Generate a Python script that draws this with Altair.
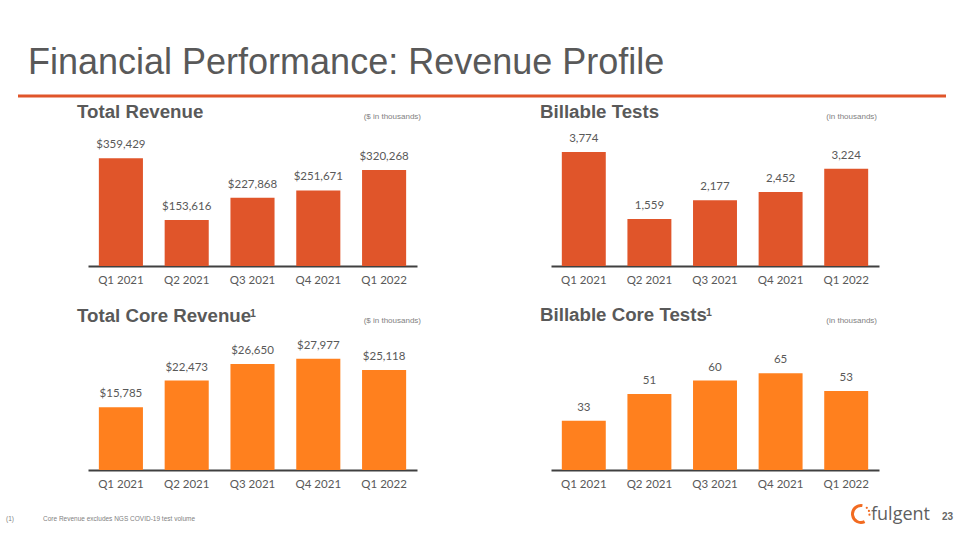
import math
import altair as alt
import pandas as pd

# ---- data ----
quarters = ["Q1 2021", "Q2 2021", "Q3 2021", "Q4 2021", "Q1 2022"]
total_revenue = [359429, 153616, 227868, 251671, 320268]
billable_tests = [3774, 1559, 2177, 2452, 3224]
core_revenue = [15785, 22473, 26650, 27977, 25118]
core_tests = [33, 51, 60, 65, 53]

GRAY = "#595959"
RED_ORANGE = "#E0552A"
ORANGE = "#FF801E"
NUM_FONT = "Lato"
SANS = "Liberation Sans"
H = 540


def panel(values, color, x0, x1, base_y, top_y, dmax, fmt):
    df = pd.DataFrame({"quarter": quarters, "value": values})
    xenc = alt.X(
        "quarter:N",
        sort=quarters,
        scale=alt.Scale(domain=quarters, range=[x0, x1], paddingInner=0.33, paddingOuter=0.165),
        axis=alt.Axis(
            orient="bottom", offset=base_y - H, domainColor="#404040", domainWidth=2,
            ticks=False, grid=False, labelAngle=0, labelFont=NUM_FONT, labelFontSize=11.5,
            labelColor=GRAY, labelPadding=8, title=None,
        ),
    )
    yenc = alt.Y(
        "value:Q",
        scale=alt.Scale(domain=[0, dmax], range=[base_y, top_y], nice=False, zero=True),
        axis=None,
    )
    base = alt.Chart(df).encode(x=xenc, y=yenc)
    bars = base.mark_bar(color=color)
    labels = base.mark_text(
        baseline="alphabetic", dy=-10, font=NUM_FONT, fontSize=11.5, color=GRAY
    ).encode(text=alt.Text("value:Q", format=fmt))
    return alt.layer(bars, labels)


def txt(s, x, y, size, color=GRAY, weight="normal", align="left", font=SANS):
    return alt.Chart(alt.Data(values=[{}])).mark_text(
        text=s, align=align, baseline="alphabetic", fontSize=size,
        fontWeight=weight, color=color, font=font,
    ).encode(x=alt.value(x), y=alt.value(y))


p_tl = panel(total_revenue, RED_ORANGE, 88, 417, 266, 128, 460000, "$,d")
p_tr = panel(billable_tests, RED_ORANGE, 551, 879, 266, 128, 4570, ",d")
p_bl = panel(core_revenue, ORANGE, 88, 417, 470, 332, 34673, "$,d")
p_br = panel(core_tests, ORANGE, 551, 879, 470, 332, 92.6, ",d")

decor = [
    txt("Financial Performance: Revenue Profile", 28, 74, 36),
    alt.Chart(alt.Data(values=[{}])).mark_rule(color=RED_ORANGE, strokeWidth=3).encode(
        x=alt.value(18), x2=alt.value(946), y=alt.value(96)
    ),
    txt("Total Revenue", 77, 118, 18.7, weight="bold"),
    txt("($ in thousands)", 421, 119, 8, color="#7f7f7f", align="right"),
    txt("Billable Tests", 540, 118, 18.7, weight="bold"),
    txt("(in thousands)", 877, 119, 8, color="#7f7f7f", align="right"),
    txt("Total Core Revenue", 77, 322, 18.7, weight="bold"),
    txt("1", 250, 317, 10.5, weight="bold"),
    txt("($ in thousands)", 421, 323, 8, color="#7f7f7f", align="right"),
    txt("Billable Core Tests", 540, 321, 18.7, weight="bold"),
    txt("1", 706, 316, 10.5, weight="bold"),
    txt("(in thousands)", 877, 323, 8, color="#7f7f7f", align="right"),
    txt("(1)", 6, 521, 6.5, color="#7f7f7f"),
    txt("Core Revenue excludes NGS COVID-19 test volume", 43, 521, 6.5, color="#7f7f7f"),
    alt.Chart(alt.Data(values=[{}])).mark_arc(
        color="#F26B21", radius=10, radius2=7, theta=2.7, theta2=6.45
    ).encode(x=alt.value(861), y=alt.value(514)),
    txt("fulgent", 871, 520, 18, color="#5f5f5f", font="Open Sans"),
    txt("23", 953, 520, 10, color="#666666", weight="bold", align="right"),
]
for a in (0.75, 1.2, 1.65):
    decor.append(
        alt.Chart(alt.Data(values=[{}])).mark_circle(color="#F26B21", size=5, opacity=1).encode(
            x=alt.value(861 + 8.5 * math.sin(a)), y=alt.value(514 - 8.5 * math.cos(a))
        )
    )

chart = (
    alt.layer(p_tl, p_tr, p_bl, p_br, *decor)
    .resolve_scale(x="independent", y="independent")
    .properties(width=960, height=540, autosize=alt.AutoSizeParams(type="none"), padding=0,
                background="white")
    .configure_view(stroke=None)
)

chart.save("out.html", embed_options={"renderer": "svg", "actions": False})
